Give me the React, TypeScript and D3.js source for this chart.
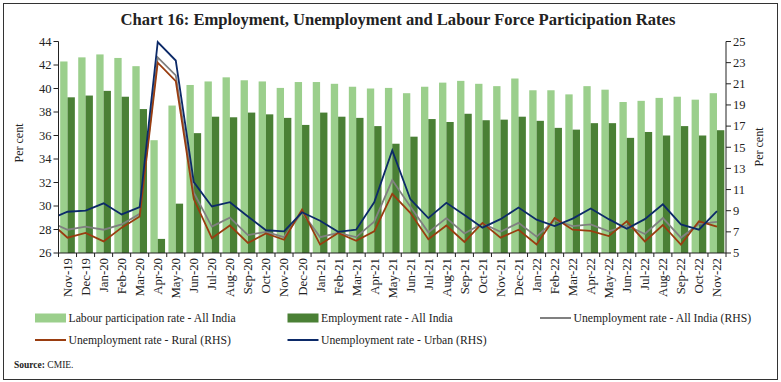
import React from "react";
import * as d3 from "d3";

const months = ["Nov-19","Dec-19","Jan-20","Feb-20","Mar-20","Apr-20","May-20","Jun-20","Jul-20","Aug-20","Sep-20","Oct-20","Nov-20","Dec-20","Jan-21","Feb-21","Mar-21","Apr-21","May-21","Jun-21","Jul-21","Aug-21","Sep-21","Oct-21","Nov-21","Dec-21","Jan-22","Feb-22","Mar-22","Apr-22","May-22","Jun-22","Jul-22","Aug-22","Sep-22","Oct-22","Nov-22"];

const labourParticipation = [42.3,42.65,42.9,42.6,41.9,35.6,38.55,40.3,40.6,40.95,40.7,40.6,40.05,40.55,40.55,40.4,40.15,40.0,40.05,39.6,40.15,40.5,40.65,40.4,40.2,40.85,39.85,39.85,39.5,40.2,39.9,38.85,38.95,39.2,39.3,39.05,39.6];
const employment = [39.25,39.4,39.8,39.3,38.25,27.2,30.2,36.2,37.6,37.55,37.95,37.8,37.5,36.9,37.95,37.6,37.5,36.8,35.3,35.9,37.4,37.15,37.85,37.3,37.35,37.6,37.25,36.65,36.5,37.05,37.05,35.8,36.3,36.0,36.8,36.0,36.45];
const unempAllIndia = [7.2,7.5,7.2,7.7,8.7,23.5,21.8,10.7,7.5,8.35,6.7,7.0,6.5,8.85,6.5,6.9,6.5,7.97,11.9,9.4,6.95,8.3,6.85,7.8,7.0,7.85,6.55,8.1,7.55,7.7,7.05,7.6,6.8,8.3,6.45,7.75,7.95];
const unempRural = [6.45,6.9,6.1,7.4,8.45,23.0,21.25,10.1,6.4,7.6,5.95,6.85,6.25,9.1,5.8,6.9,6.15,7.05,10.6,8.8,6.3,7.6,6.05,7.85,6.45,7.2,5.8,8.3,7.2,7.1,6.6,8.0,6.1,7.65,5.8,8.0,7.5];
const unempUrban = [8.9,9.0,9.7,8.65,9.35,24.95,23.2,11.7,9.4,9.8,8.45,7.15,7.05,8.85,8.05,7.0,7.2,9.8,14.7,10.1,8.3,9.75,8.6,7.4,8.2,9.3,8.15,7.55,8.25,9.2,8.2,7.3,8.2,9.6,7.7,7.2,8.95];
// value of the month preceding Nov-19 (only the segment leading in from the axis is visible)
const priorAllIndia = 7.95;
const priorRural = 7.95;
const priorUrban = 8.2;

const leftTicks = [26,28,30,32,34,36,38,40,42,44];
const rightTicks = [5,7,9,11,13,15,17,19,21,23,25];

const C_LPR = "#9bcf8c";
const C_EMP = "#4a8035";
const C_ALL = "#808080";
const C_RUR = "#993d10";
const C_URB = "#0c2a68";
const FONT = "'Liberation Serif', serif";

export default function App() {
  const W = 781, H = 382;
  const left = 58.5, right = 726, top = 41.5, bottom = 253;
  const x = d3.scaleBand<string>().domain(months).range([left, right]).padding(0);
  const bw = x.bandwidth();
  const sub = d3.scaleBand<string>().domain(["lpr","emp"]).range([0, bw]).paddingInner(0).paddingOuter(0.23);
  const yL = d3.scaleLinear().domain([26, 44]).range([bottom, top]);
  const yR = d3.scaleLinear().domain([5, 25]).range([bottom, top]);
  const cx = (i: number) => (x(months[i]) as number) + bw / 2;

  const lineGen = d3.line<[number, number]>().x(d => d[0]).y(d => d[1]);
  const mkLine = (vals: number[], prior: number) => {
    const pts: [number, number][] = [[cx(0) - bw, yR(prior)]];
    vals.forEach((v, i) => pts.push([cx(i), yR(v)]));
    return lineGen(pts) || "";
  };

  const lines = [
    { vals: unempAllIndia, prior: priorAllIndia, color: C_ALL },
    { vals: unempRural, prior: priorRural, color: C_RUR },
    { vals: unempUrban, prior: priorUrban, color: C_URB },
  ];

  const legendRow1 = [
    { type: "rect", color: C_LPR, label: "Labour participation rate - All India", x: 35 },
    { type: "rect", color: C_EMP, label: "Employment rate - All India", x: 287.5 },
    { type: "line", color: C_ALL, label: "Unemployment rate - All India (RHS)", x: 540 },
  ];
  const legendRow2 = [
    { type: "line", color: C_RUR, label: "Unemployment rate - Rural (RHS)", x: 35 },
    { type: "line", color: C_URB, label: "Unemployment rate - Urban (RHS)", x: 287.5 },
  ];

  const renderLegend = (items: any[], y: number) =>
    items.map((it, k) => (
      <g key={k}>
        {it.type === "rect" ? (
          <rect x={it.x} y={y - 4.5} width={31} height={9} fill={it.color} />
        ) : (
          <line x1={it.x} x2={it.x + 31} y1={y} y2={y} stroke={it.color} strokeWidth={2} />
        )}
        <text x={it.x + 33.5} y={y} dy="0.35em" fontSize={11.7} fontFamily={FONT} fill="#222">{it.label}</text>
      </g>
    ));

  return (
    <svg width={W} height={H} style={{ position: "absolute", left: 0, top: 0, background: "#fff" }}>
      <rect x={3.5} y={3.5} width={774} height={376} fill="#fff" stroke="#333" strokeWidth={1} />
      <text x={398} y={25} textAnchor="middle" fontFamily={FONT} fontWeight="bold" fontSize={16.6} fill="#222">
        Chart 16: Employment, Unemployment and Labour Force Participation Rates
      </text>

      {/* bars */}
      {months.map((m, i) => (
        <g key={m}>
          <rect x={(x(m) as number) + (sub("lpr") as number)} y={yL(labourParticipation[i])} width={sub.bandwidth()} height={bottom - yL(labourParticipation[i])} fill={C_LPR} />
          <rect x={(x(m) as number) + (sub("emp") as number)} y={yL(employment[i])} width={sub.bandwidth()} height={bottom - yL(employment[i])} fill={C_EMP} />
        </g>
      ))}

      {/* lines */}
      <defs>
        <clipPath id="plotclip">
          <rect x={left} y={top - 5} width={right - left} height={bottom - top + 5} />
        </clipPath>
      </defs>
      <g clipPath="url(#plotclip)">
        {lines.map((l, k) => (
          <path key={k} d={mkLine(l.vals, l.prior)} fill="none" stroke={l.color} strokeWidth={1.8} strokeLinejoin="miter" />
        ))}
      </g>

      {/* left axis */}
      <line x1={left} x2={left} y1={top} y2={bottom} stroke="#222" strokeWidth={1} />
      {leftTicks.map(t => (
        <g key={t}>
          <line x1={left - 5} x2={left} y1={yL(t)} y2={yL(t)} stroke="#222" />
          <text x={left - 7} y={yL(t)} dy="0.35em" textAnchor="end" fontSize={12.5} fontFamily={FONT} fill="#222">{t}</text>
        </g>
      ))}
      <text transform={`translate(23,143) rotate(-90)`} textAnchor="middle" fontSize={12} fontFamily={FONT} fill="#222">Per cent</text>

      {/* right axis */}
      <line x1={right} x2={right} y1={top} y2={bottom} stroke="#222" strokeWidth={1} />
      {rightTicks.map(t => (
        <g key={t}>
          <line x1={right} x2={right + 5} y1={yR(t)} y2={yR(t)} stroke="#222" />
          <text x={right + 7} y={yR(t)} dy="0.35em" textAnchor="start" fontSize={12.5} fontFamily={FONT} fill="#222">{t}</text>
        </g>
      ))}
      <text transform={`translate(763,147) rotate(-90)`} textAnchor="middle" fontSize={12} fontFamily={FONT} fill="#222">Per cent</text>

      {/* x axis */}
      <line x1={left} x2={right} y1={bottom} y2={bottom} stroke="#222" strokeWidth={1} />
      {[...months.map(m => x(m) as number), right].map((px, i) => (
        <line key={i} x1={px} x2={px} y1={bottom} y2={bottom + 4} stroke="#222" />
      ))}
      {months.map((m, i) => (
        <text key={m} transform={`translate(${cx(i)},${bottom + 5}) rotate(-90)`} textAnchor="end" dy="0.35em" fontSize={12.8} fontFamily={FONT} fill="#222">{m}</text>
      ))}

      {renderLegend(legendRow1, 318)}
      {renderLegend(legendRow2, 340)}

      <text x={14} y={368} fontSize={9.5} fontFamily={FONT} fill="#222">
        <tspan fontWeight="bold">Source:</tspan> CMIE.
      </text>
    </svg>
  );
}
